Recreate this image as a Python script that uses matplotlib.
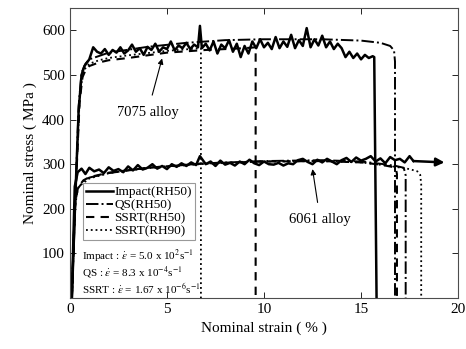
import numpy as np
import matplotlib.pyplot as plt

plt.rcParams['font.family'] = ['Liberation Serif', 'DejaVu Serif']
plt.rcParams['mathtext.fontset'] = 'stix'

# ---- 7075 alloy ----
x_7075_imp = [0.1, 0.3, 0.45, 0.6, 0.75, 1.0, 1.2, 1.4, 1.6, 1.8, 2.0, 2.2, 2.4, 2.6, 2.8,
              3.0, 3.2, 3.4, 3.6, 3.8, 4.0, 4.2, 4.4, 4.6, 4.8, 5.0, 5.2, 5.4, 5.6, 5.8,
              6.0, 6.2, 6.4, 6.6, 6.7, 6.8, 7.0, 7.2, 7.4, 7.6, 7.8, 8.0, 8.2, 8.4, 8.6,
              8.8, 9.0, 9.2, 9.4, 9.6, 9.8, 10.0, 10.2, 10.4, 10.6, 10.8, 11.0, 11.2, 11.4,
              11.6, 11.8, 12.0, 12.2, 12.4, 12.6, 12.8, 13.0, 13.2, 13.4, 13.6, 13.8, 14.0,
              14.2, 14.4, 14.6, 14.8, 15.0, 15.2, 15.4, 15.6, 15.68, 15.8]
y_7075_imp = [0, 250, 420, 500, 520, 535, 562, 552, 548, 558, 545, 556, 550, 562, 548,
              555, 568, 552, 560, 545, 563, 556, 570, 552, 562, 558, 575, 555, 566, 560,
              572, 558, 568, 562, 610, 560, 570, 555, 575, 548, 568, 560, 578, 552, 570,
              540, 565, 548, 575, 560, 580, 562, 572, 558, 585, 560, 575, 563, 590,
              560, 578, 565, 605, 562, 580, 566, 588, 562, 575, 558, 570, 560,
              540, 552, 538, 548, 535, 545, 538, 542, 540, 0]

x_7075_qs = [0.1, 0.3, 0.45, 0.6, 0.8, 1.0, 2.0, 4.0, 6.0, 8.0, 10.0, 13.0, 15.0, 16.0, 16.5, 16.7, 16.75, 16.75]
y_7075_qs = [0, 250, 430, 505, 525, 535, 550, 563, 572, 578, 580, 580, 577, 572, 565, 555, 530, 0]

x_7075_ssrt50 = [0.1, 0.3, 0.5, 0.65, 0.8, 1.0, 1.5, 2.0, 3.0, 5.0, 7.0, 9.0, 9.57, 9.57]
y_7075_ssrt50 = [0, 240, 440, 495, 510, 520, 528, 533, 538, 550, 556, 560, 562, 0]

x_7075_ssrt90 = [0.1, 0.3, 0.5, 0.65, 0.8, 1.0, 1.5, 2.0, 3.0, 5.0, 6.75, 6.75]
y_7075_ssrt90 = [0, 245, 445, 500, 515, 525, 533, 538, 544, 554, 560, 0]

# ---- 6061 alloy ----
x_6061_imp = [0.1, 0.25, 0.4, 0.6, 0.8, 1.0, 1.25, 1.5, 1.75, 2.0, 2.25, 2.5, 2.75, 3.0,
              3.25, 3.5, 3.75, 4.0, 4.25, 4.5, 4.75, 5.0, 5.25, 5.5, 5.75, 6.0, 6.25,
              6.5, 6.7, 7.0, 7.25, 7.5, 7.75, 8.0, 8.25, 8.5, 8.75, 9.0, 9.25, 9.5,
              9.75, 10.0, 10.25, 10.5, 10.75, 11.0, 11.25, 11.5, 11.75, 12.0, 12.25,
              12.5, 12.75, 13.0, 13.25, 13.5, 13.75, 14.0, 14.25, 14.5, 14.75, 15.0,
              15.25, 15.5, 15.75, 16.0, 16.25, 16.5, 16.75, 17.0, 17.25, 17.5, 17.7]
y_6061_imp = [0, 250, 282, 290, 278, 292, 284, 288, 280, 293, 285, 289, 282, 295,
              286, 298, 288, 292, 300, 290, 296, 289, 300, 294, 302, 296, 304,
              298, 318, 300, 306, 296, 308, 299, 303, 297, 306, 300, 310, 302,
              298, 306, 300, 299, 303, 297, 302, 300, 309, 312, 305,
              300, 310, 304, 312, 306, 300, 309, 314, 305, 315, 308,
              312, 318, 306, 313, 302, 316, 309, 312, 304, 318, 307]

x_6061_qs = [0.1, 0.25, 0.4, 0.7, 1.0, 2.0, 4.0, 7.0, 10.0, 13.0, 15.0, 16.0, 16.8, 17.2, 17.3, 17.3]
y_6061_qs = [0, 200, 245, 262, 270, 280, 292, 302, 307, 309, 306, 301, 296, 292, 275, 0]

x_6061_ssrt50 = [0.1, 0.25, 0.4, 0.7, 1.0, 2.0, 4.0, 7.0, 10.0, 13.0, 15.0, 16.0, 16.6, 16.8, 16.85, 16.85]
y_6061_ssrt50 = [0, 205, 248, 264, 271, 281, 292, 302, 306, 307, 304, 299, 294, 290, 278, 0]

x_6061_ssrt90 = [0.1, 0.25, 0.45, 1.0, 2.0, 4.0, 7.0, 10.0, 13.0, 15.0, 16.5, 17.5, 17.9, 18.05, 18.1, 18.1]
y_6061_ssrt90 = [0, 210, 250, 268, 280, 291, 301, 306, 307, 304, 296, 289, 284, 276, 255, 0]

fig = plt.figure(figsize=(4.66, 3.49), dpi=100)
ax = fig.add_axes([0.150, 0.146, 0.833, 0.831])

dash = (0, (4, 3))
ax.plot(x_7075_qs, y_7075_qs, color='k', lw=1.4, ls='-.', label='QS(RH50)')
ax.plot(x_7075_ssrt50, y_7075_ssrt50, color='k', lw=1.5, ls=dash, label='SSRT(RH50)')
ax.plot(x_7075_ssrt90, y_7075_ssrt90, color='k', lw=1.3, ls=':', label='SSRT(RH90)')
ax.plot(x_6061_qs, y_6061_qs, color='k', lw=1.4, ls='-.')
ax.plot(x_6061_ssrt50, y_6061_ssrt50, color='k', lw=1.5, ls=dash)
ax.plot(x_6061_ssrt90, y_6061_ssrt90, color='k', lw=1.3, ls=':')
ax.plot(x_7075_imp, y_7075_imp, color='k', lw=1.8, ls='-', label='Impact(RH50)')
ax.plot(x_6061_imp, y_6061_imp, color='k', lw=1.8, ls='-')
ax.annotate('', xy=(19.3, 304), xytext=(x_6061_imp[-1], y_6061_imp[-1]),
            arrowprops=dict(arrowstyle='-|>', lw=1.8, color='k', mutation_scale=12,
                            shrinkA=0, shrinkB=0))

ax.annotate('7075 alloy', xy=(4.75, 537), xytext=(4.0, 416), ha='center', va='center',
            fontsize=10.5, arrowprops=dict(arrowstyle='-|>', lw=0.8, color='k',
                                           mutation_scale=8, shrinkA=6, shrinkB=0))
ax.annotate('6061 alloy', xy=(12.5, 289), xytext=(12.9, 175), ha='center', va='center',
            fontsize=10.5, arrowprops=dict(arrowstyle='-|>', lw=0.8, color='k',
                                           mutation_scale=8, shrinkA=6, shrinkB=0))

handles, labels = ax.get_legend_handles_labels()
order = [3, 0, 1, 2]
leg = ax.legend([handles[i] for i in order], [labels[i] for i in order],
                loc='upper left', bbox_to_anchor=(0.034, 0.397), fontsize=9.5,
                frameon=True, fancybox=False, edgecolor='0.5', borderpad=0.25,
                labelspacing=0.05, handlelength=2.0, handletextpad=0.1,
                borderaxespad=0)
leg.get_frame().set_linewidth(0.8)

ax.text(0.6, 94, r'Impact : $\dot{\varepsilon}$ = 5.0 x 10$^{2}$s$^{-1}$', fontsize=8, va='center')
ax.text(0.6, 58, r'QS : $\dot{\varepsilon}$ = 8.3 x 10$^{-4}$s$^{-1}$', fontsize=8, va='center')
ax.text(0.6, 22, r'SSRT : $\dot{\varepsilon}$ = 1.67 x 10$^{-6}$s$^{-1}$', fontsize=8, va='center')

ax.set_xlim(0, 20)
ax.set_ylim(0, 650)
ax.set_xticks([0, 5, 10, 15, 20])
ax.set_yticks([100, 200, 300, 400, 500, 600])
ax.tick_params(direction='in', top=True, right=True, labelsize=11, length=4, width=0.6)
for s in ax.spines.values():
    s.set_linewidth(0.8)
    s.set_color('0.3')
ax.set_xlabel('Nominal strain ( % )', fontsize=11)
ax.set_ylabel('Nominal stress ( MPa )', fontsize=11)

fig.savefig('out.png', dpi=100)
